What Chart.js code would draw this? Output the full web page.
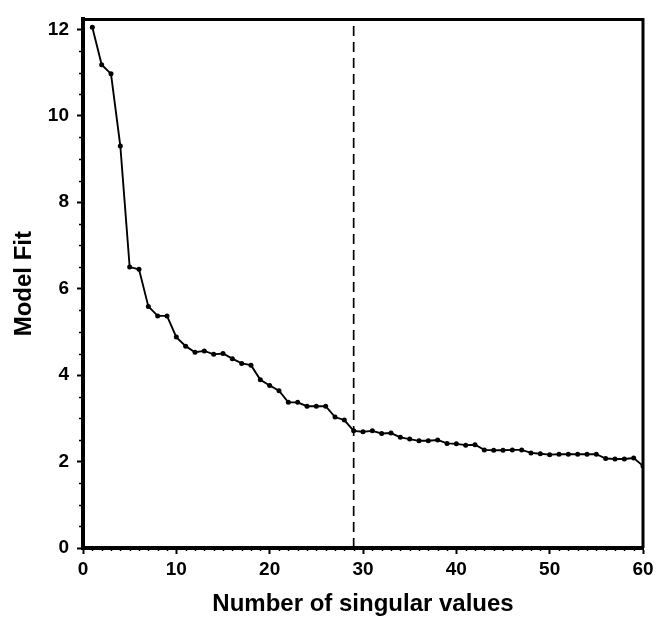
<!DOCTYPE html>
<html>
<head>
<meta charset="utf-8">
<script src="https://cdn.jsdelivr.net/npm/chart.js@4.4.0/dist/chart.umd.min.js"></script>
<style>
    body { margin: 0; background: #fff; }
    canvas { display: block; }
</style>
</head>
<body>
<canvas id="fitChart" width="670" height="624"></canvas>
<script>
// number of singular values kept (x) and resulting model fit (y)
const singularValues = [
    1, 2, 3, 4, 5, 6, 7, 8, 9, 10,
    11, 12, 13, 14, 15, 16, 17, 18, 19, 20,
    21, 22, 23, 24, 25, 26, 27, 28, 29, 30,
    31, 32, 33, 34, 35, 36, 37, 38, 39, 40,
    41, 42, 43, 44, 45, 46, 47, 48, 49, 50,
    51, 52, 53, 54, 55, 56, 57, 58, 59, 60
];
const modelFit = [
    12.05, 11.18, 10.97, 9.30, 6.50, 6.45, 5.59, 5.37, 5.37, 4.88,
    4.67, 4.53, 4.56, 4.48, 4.50, 4.38, 4.27, 4.23, 3.89, 3.76,
    3.64, 3.37, 3.37, 3.28, 3.28, 3.28, 3.03, 2.96, 2.71, 2.69,
    2.71, 2.65, 2.66, 2.56, 2.52, 2.48, 2.48, 2.50, 2.42, 2.41,
    2.38, 2.39, 2.27, 2.26, 2.26, 2.27, 2.27, 2.20, 2.18, 2.16,
    2.17, 2.17, 2.17, 2.17, 2.17, 2.07, 2.06, 2.06, 2.08, 1.90
];
const cutoff = 29;

const xTicks = [0, 10, 20, 30, 40, 50, 60];
const yTicks = [0, 2, 4, 6, 8, 10, 12];
const xRange = [0, 60];
const yRange = [0, 12.23];

const FONT = '"Liberation Sans", Arial, Helvetica, sans-serif';

const points = singularValues.map((x, i) => ({ x: x, y: modelFit[i] }));
const cutoffLine = [{ x: cutoff, y: yRange[0] }, { x: cutoff, y: yRange[1] }];

// minor ticks + top/right frame
const framePlugin = {
    id: 'frame',
    afterDraw(chart) {
        const { ctx, chartArea, scales } = chart;
        ctx.save();
        ctx.strokeStyle = '#000';
        ctx.lineWidth = 3;
        ctx.beginPath();
        ctx.moveTo(chartArea.left, chartArea.top);
        ctx.lineTo(chartArea.right, chartArea.top);
        ctx.lineTo(chartArea.right, chartArea.bottom);
        ctx.stroke();

        ctx.lineWidth = 1.5;
        ctx.beginPath();
        for (let v = 0.5; v < yRange[1]; v += 0.5) {
            if (v % 2 === 0) continue;
            const py = Math.round(scales.y.getPixelForValue(v)) + 0.5;
            ctx.moveTo(chartArea.left - 4, py);
            ctx.lineTo(chartArea.left, py);
        }
        for (let v = 1; v < xRange[1]; v++) {
            if (v % 10 === 0) continue;
            const px = Math.round(scales.x.getPixelForValue(v)) + 0.5;
            ctx.moveTo(px, chartArea.bottom);
            ctx.lineTo(px, chartArea.bottom + 3);
        }
        ctx.stroke();
        ctx.restore();
    }
};

new Chart(document.getElementById('fitChart').getContext('2d'), {
    type: 'scatter',
    data: {
        datasets: [{
            data: points,
            showLine: true,
            borderColor: '#000',
            backgroundColor: '#000',
            borderWidth: 1.9,
            pointRadius: 2.5,
            pointHoverRadius: 2.5,
            pointBorderWidth: 0
        }, {
            data: cutoffLine,
            showLine: true,
            borderColor: '#000',
            borderWidth: 1.7,
            borderDash: [10, 6],
            pointRadius: 0
        }]
    },
    plugins: [framePlugin],
    options: {
        responsive: false,
        animation: false,
        layout: {
            padding: { left: 0, right: 27, top: 8, bottom: 0 }
        },
        plugins: {
            legend: { display: false },
            tooltip: { enabled: false }
        },
        scales: {
            x: {
                type: 'linear',
                min: xRange[0],
                max: xRange[1],
                afterBuildTicks: scale => {
                    scale.ticks = xTicks.map(v => ({ value: v }));
                },
                afterFit: scale => { scale.height = 76; },
                grid: {
                    drawOnChartArea: false,
                    drawTicks: true,
                    tickLength: 6,
                    tickWidth: 2,
                    tickColor: '#000'
                },
                border: { display: true, color: '#000', width: 4 },
                ticks: {
                    color: '#000',
                    padding: 4,
                    maxRotation: 0,
                    font: { family: FONT, size: 19, weight: 'bold' }
                },
                title: {
                    display: true,
                    text: 'Number of singular values',
                    color: '#000',
                    padding: { top: 0, bottom: 5 },
                    font: { family: FONT, size: 24, weight: 'bold' }
                }
            },
            y: {
                type: 'linear',
                min: yRange[0],
                max: yRange[1],
                afterBuildTicks: scale => {
                    scale.ticks = yTicks.map(v => ({ value: v }));
                },
                afterFit: scale => { scale.width = 83; },
                grid: {
                    drawOnChartArea: false,
                    drawTicks: true,
                    tickLength: 6,
                    tickWidth: 2,
                    tickColor: '#000'
                },
                border: { display: true, color: '#000', width: 4 },
                ticks: {
                    color: '#000',
                    padding: 8,
                    font: { family: FONT, size: 19, weight: 'bold' }
                },
                title: {
                    display: true,
                    text: 'Model Fit',
                    color: '#000',
                    padding: { top: 10, bottom: 0 },
                    font: { family: FONT, size: 24, weight: 'bold' }
                }
            }
        }
    }
});
</script>
</body>
</html>
